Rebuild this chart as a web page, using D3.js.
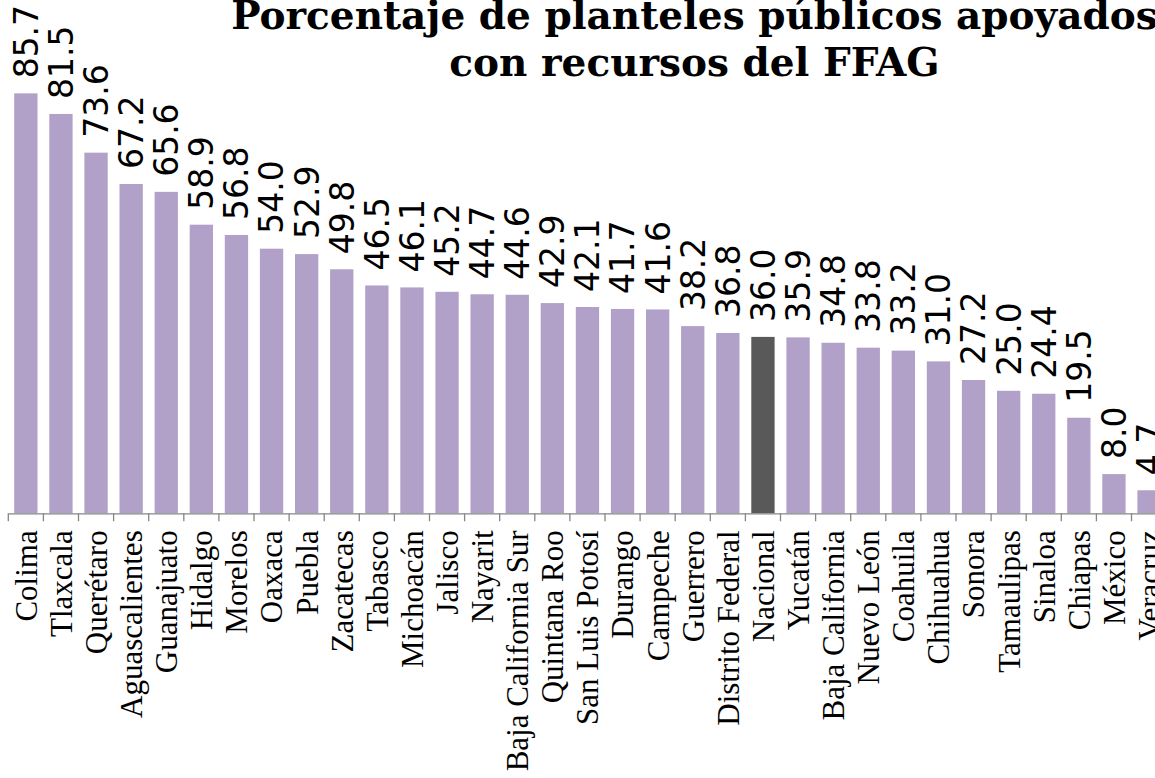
<!DOCTYPE html>
<html>
<head>
<meta charset="utf-8">
<script src="https://cdn.jsdelivr.net/npm/d3@7/dist/d3.min.js"></script>
<style>
  html, body { margin: 0; padding: 0; background: #ffffff; overflow: hidden; }
  svg { display: block; }
</style>
</head>
<body>
<svg id="chart" width="1155" height="778"></svg>
<script>
const titleLines = ["Porcentaje de planteles públicos apoyados", "con recursos del FFAG"];
const categories = ["Colima", "Tlaxcala", "Querétaro", "Aguascalientes", "Guanajuato", "Hidalgo",
  "Morelos", "Oaxaca", "Puebla", "Zacatecas", "Tabasco", "Michoacán", "Jalisco", "Nayarit",
  "Baja California Sur", "Quintana Roo", "San Luis Potosí", "Durango", "Campeche", "Guerrero",
  "Distrito Federal", "Nacional", "Yucatán", "Baja California", "Nuevo León", "Coahuila",
  "Chihuahua", "Sonora", "Tamaulipas", "Sinaloa", "Chiapas", "México", "Veracruz"];
const values = [85.7, 81.5, 73.6, 67.2, 65.6, 58.9, 56.8, 54.0, 52.9, 49.8, 46.5, 46.1, 45.2, 44.7,
  44.6, 42.9, 42.1, 41.7, 41.6, 38.2, 36.8, 36.0, 35.9, 34.8, 33.8, 33.2, 31.0, 27.2, 25.0, 24.4,
  19.5, 8.0, 4.7];
const highlight = ["Nacional"];

const data = categories.map((c, i) => ({ cat: c, val: values[i] }));

const svg = d3.select("#chart");
const x0 = 8.3, step = 35.1, baseY = 513.3;
const x = d3.scaleBand()
  .domain(categories)
  .range([x0, x0 + step * categories.length])
  .paddingInner(0.336)
  .paddingOuter(0.168);
const y = d3.scaleLinear().domain([0, 100]).range([baseY, baseY - 490]);

// bars
svg.append("g").selectAll("rect").data(data).join("rect")
  .attr("x", d => x(d.cat))
  .attr("y", d => y(d.val))
  .attr("width", x.bandwidth())
  .attr("height", d => y(0) - y(d.val))
  .attr("fill", d => highlight.includes(d.cat) ? "#595959" : "#b1a0c7");

// axis with category labels
const axis = svg.append("g")
  .attr("transform", `translate(0,${baseY})`)
  .call(d3.axisBottom(x).tickSize(0).tickSizeOuter(0));
axis.select(".domain").attr("stroke", "#868686").attr("stroke-width", 1.3);
axis.selectAll(".tick text")
  .attr("font-family", "'Liberation Serif', serif")
  .attr("font-size", 31)
  .attr("fill", "#000")
  .attr("text-anchor", "end")
  .attr("transform", "translate(0,17) rotate(-90)")
  .attr("x", 0).attr("y", 0)
  .attr("dy", "0.35em");

// boundary tick marks
const bounds = d3.range(categories.length + 1).map(i => x.range()[0] + i * x.step());
svg.append("g").selectAll("line").data(bounds).join("line")
  .attr("x1", d => d).attr("x2", d => d)
  .attr("y1", baseY).attr("y2", baseY + 8)
  .attr("stroke", "#868686").attr("stroke-width", 1.3);

// value labels
svg.append("g").selectAll("text").data(data).join("text")
  .attr("transform", d => `translate(${x(d.cat) + x.bandwidth() / 2},${y(d.val) - 15}) rotate(-90)`)
  .attr("dy", "0.36em")
  .attr("text-anchor", "start")
  .attr("font-family", "'DejaVu Sans', sans-serif")
  .attr("font-size", 33)
  .attr("fill", "#000")
  .text(d => d.val.toFixed(1));

// title
const title = svg.append("text")
  .attr("font-family", "'DejaVu Serif', serif")
  .attr("font-weight", "bold")
  .attr("font-size", 39)
  .attr("text-anchor", "middle")
  .attr("fill", "#000");
title.selectAll("tspan").data(titleLines).join("tspan")
  .attr("x", 694.5)
  .attr("y", (d, i) => 29 + i * 47)
  .text(d => d);
</script>
</body>
</html>
